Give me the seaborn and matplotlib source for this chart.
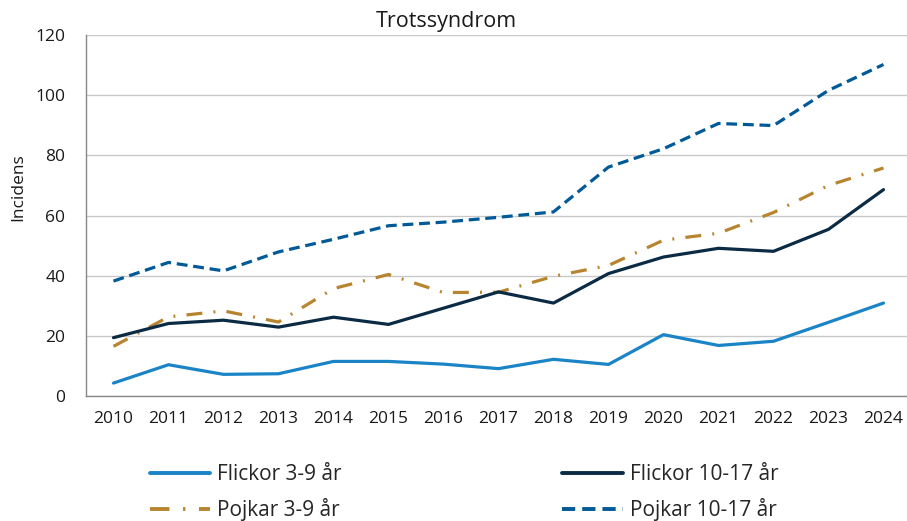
import numpy as np
import pandas as pd
import matplotlib
matplotlib.use("Agg")
import matplotlib.pyplot as plt
import seaborn as sns

years = [str(y) for y in range(2010, 2025)]

flickor_3_9 = [4.3, 10.4, 7.2, 7.4, 11.5, 11.5, 10.6, 9.1, 12.2, 10.5, 20.4, 16.8, 18.2, 24.5, 30.9]
flickor_10_17 = [19.4, 24.1, 25.2, 22.9, 26.2, 23.8, 29.2, 34.6, 30.9, 40.7, 46.2, 49.1, 48.1, 55.4, 68.6]
pojkar_3_9 = [16.5, 26.3, 28.3, 24.6, 35.7, 40.4, 34.4, 34.5, 39.8, 43.4, 51.8, 54.1, 61.0, 70.0, 75.8]
pojkar_10_17 = [38.2, 44.4, 41.6, 47.9, 52.1, 56.6, 57.8, 59.4, 61.2, 76.1, 82.2, 90.6, 89.9, 101.6, 110.2]

series_names = ["Flickor 3-9 år", "Pojkar 3-9 år", "Flickor 10-17 år", "Pojkar 10-17 år"]
series_values = [flickor_3_9, pojkar_3_9, flickor_10_17, pojkar_10_17]

colors = {
    "Flickor 3-9 år": "#1a84c7",
    "Pojkar 3-9 år": "#b7852f",
    "Flickor 10-17 år": "#0b2b45",
    "Pojkar 10-17 år": "#005a97",
}
dashes = {
    "Flickor 3-9 år": "",
    "Pojkar 3-9 år": (5, 3.5, 0.6, 3.5),
    "Flickor 10-17 år": "",
    "Pojkar 10-17 år": (3.4, 1.8),
}

rows = []
for name, vals in zip(series_names, series_values):
    for i, v in enumerate(vals):
        rows.append({"x": i, "Grupp": name, "Incidens": v})
df = pd.DataFrame(rows)

sns.set_style("white")
plt.rcParams["font.family"] = ["Open Sans", "DejaVu Sans"]

fig = plt.figure(figsize=(9.07, 5.21), dpi=100)
ax = fig.add_axes([0.0948, 0.2399, 0.9096, 0.6929])

sns.lineplot(data=df, x="x", y="Incidens", hue="Grupp", style="Grupp",
             hue_order=series_names, style_order=series_names,
             palette=colors, dashes=dashes, linewidth=2.3, ax=ax, legend=False)

ax.set_xlim(-0.5, 14.5)
ax.set_ylim(0, 120)
ax.set_yticks(range(0, 121, 20))
ax.set_xticks(range(15))
ax.set_xticklabels(years)
ax.set_xticks(np.arange(-0.5, 15, 1), minor=True)
ax.tick_params(axis="x", which="major", length=0, pad=11, labelsize=12.5, colors="#1a1a1a")
ax.tick_params(axis="x", which="minor", length=5, width=1, color="#888888", direction="out")
ax.tick_params(axis="y", length=0, pad=15, labelsize=12.5, colors="#1a1a1a")
ax.set_xlabel("")
ax.set_ylabel("")
ax.grid(axis="y", color="#c9c9c9", linewidth=1)
ax.set_axisbelow(True)
for s in ["top", "right"]:
    ax.spines[s].set_visible(False)
for s in ["left", "bottom"]:
    ax.spines[s].set_color("#888888")
    ax.spines[s].set_linewidth(1)

fig.text(446.5 / 907, 0.9488, "Trotssyndrom", ha="center", va="baseline", fontsize=15.5, color="#1a1a1a")
fig.text(18 / 907, 0.641, "Incidens", rotation=90, ha="center", va="center", fontsize=12.5, color="#1a1a1a")

handles = [plt.Line2D([], [], color=colors[n], linewidth=2.8,
                      dashes=dashes[n] if dashes[n] else (None, None))
           for n in series_names]
for h, n in zip(handles, series_names):
    if not dashes[n]:
        h.set_linestyle("-")
fig.legend(handles, series_names, loc="upper left", bbox_to_anchor=(150 / 907, 0.109),
           ncol=2, frameon=False, fontsize=15, handlelength=2.9, handletextpad=0.32,
           columnspacing=10.6, labelspacing=0.62, borderpad=0, borderaxespad=0)

fig.savefig("out.png", dpi=100)
